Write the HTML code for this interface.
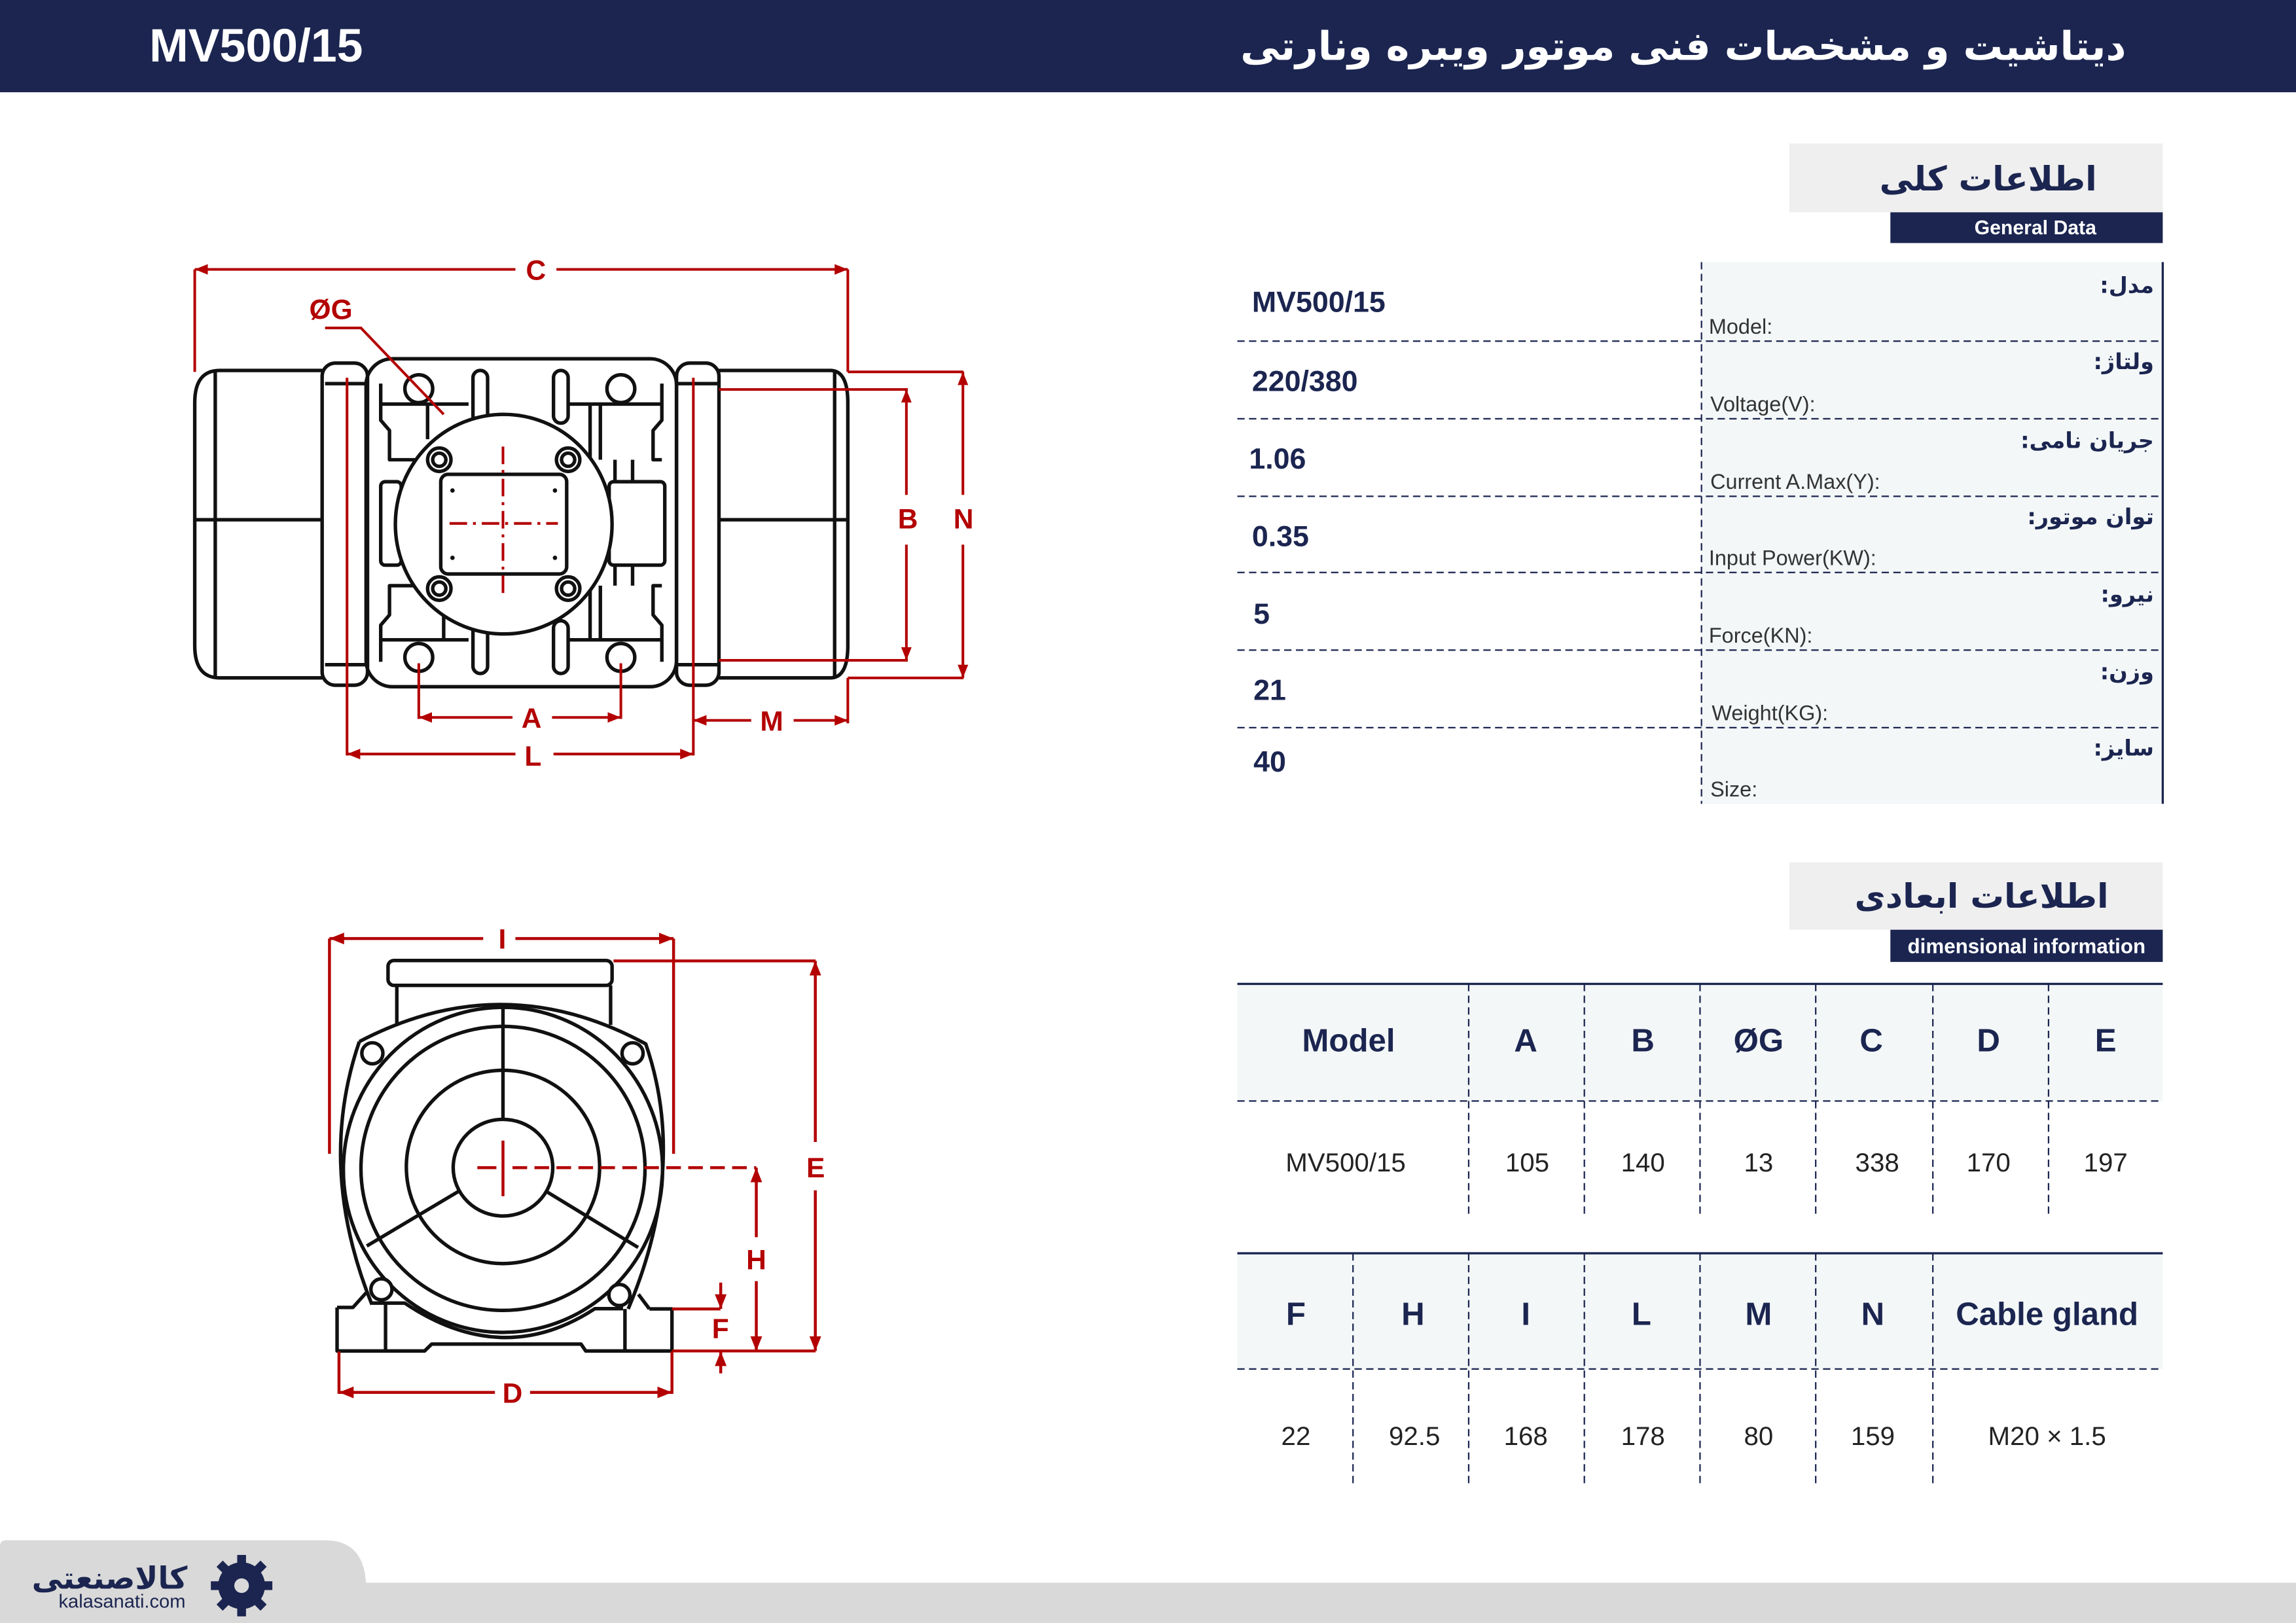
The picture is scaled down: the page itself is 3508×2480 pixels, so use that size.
<!DOCTYPE html>
<html><head><meta charset="utf-8"><style>html,body{margin:0;padding:0;background:#fff}svg{display:block}</style></head>
<body>
<svg width="3508" height="2480" viewBox="0 0 1568 1108.5" preserveAspectRatio="none" xmlns="http://www.w3.org/2000/svg" font-family="Liberation Sans, DejaVu Sans, sans-serif">
<defs>
<marker id="ar" viewBox="0 0 10 10" refX="10" refY="5" markerWidth="5" markerHeight="5" orient="auto-start-reverse"><path d="M0,1 L10,5 L0,9 Z" fill="#b30000"/></marker>
</defs>
<rect width="1568" height="1108.5" fill="#fff"/>
<!-- header -->
<rect x="0" y="0" width="1568" height="63" fill="#1b2550"/>
<text x="102" y="42" font-size="32" font-weight="bold" fill="#fff">MV500/15</text>
<text x="1452" y="41" font-size="27" font-weight="bold" fill="#fff" direction="rtl" text-anchor="start" font-family="DejaVu Sans, sans-serif">دیتاشیت و مشخصات فنی موتور ویبره ونارتی</text>

<!-- general data heading -->
<rect x="1222" y="98" width="255" height="47" fill="#efefef"/>
<text x="1432" y="130" font-size="23" font-weight="bold" fill="#1b2550" direction="rtl" text-anchor="start" font-family="DejaVu Sans, sans-serif">اطلاعات کلی</text>
<rect x="1291" y="145" width="186" height="21" fill="#1b2550"/>
<text x="1390" y="160" font-size="13.5" font-weight="bold" fill="#fff" text-anchor="middle">General Data</text>

<rect x="1162" y="179" width="315" height="370" fill="#f3f7f7"/>
<line x1="1477" y1="179" x2="1477" y2="549" stroke="#1b2550" stroke-width="1.5"/>
<line x1="1162" y1="179" x2="1162" y2="549" stroke="#1b2550" stroke-width="1" stroke-dasharray="5 3"/>
<g stroke="#1b2550" stroke-width="1" stroke-dasharray="5 3">
<line x1="845" y1="233" x2="1477" y2="233"/><line x1="845" y1="286" x2="1477" y2="286"/>
<line x1="845" y1="339" x2="1477" y2="339"/><line x1="845" y1="391" x2="1477" y2="391"/>
<line x1="845" y1="444" x2="1477" y2="444"/><line x1="845" y1="497" x2="1477" y2="497"/>
</g>
<g font-size="20" font-weight="bold" fill="#1b2550">
<text x="855" y="213">MV500/15</text><text x="855" y="267">220/380</text><text x="853" y="320">1.06</text>
<text x="855" y="373">0.35</text><text x="856" y="426">5</text><text x="856" y="478">21</text><text x="856" y="527">40</text>
</g>
<g font-size="14.5" fill="#333">
<text x="1167" y="228">Model:</text><text x="1168" y="281">Voltage(V):</text><text x="1168" y="334">Current A.Max(Y):</text>
<text x="1167" y="386">Input Power(KW):</text><text x="1167" y="439">Force(KN):</text><text x="1169" y="492">Weight(KG):</text><text x="1168" y="544">Size:</text>
</g>
<g font-size="15" font-weight="bold" fill="#1b2550" direction="rtl" text-anchor="start" font-family="DejaVu Sans, sans-serif">
<text x="1471" y="200">مدل:</text><text x="1471" y="252">ولتاژ:</text><text x="1471" y="306">جریان نامی:</text>
<text x="1471" y="358">توان موتور:</text><text x="1471" y="411">نیرو:</text><text x="1471" y="464">وزن:</text><text x="1471" y="516">سایز:</text>
</g>

<!-- dimensional heading -->
<rect x="1222" y="589" width="255" height="46" fill="#efefef"/>
<text x="1440" y="620" font-size="23" font-weight="bold" fill="#1b2550" direction="rtl" text-anchor="start" font-family="DejaVu Sans, sans-serif">اطلاعات ابعادی</text>
<rect x="1291" y="635" width="186" height="22" fill="#1b2550"/>
<text x="1384" y="651" font-size="14" font-weight="bold" fill="#fff" text-anchor="middle">dimensional information</text>

<!-- table 1 -->
<rect x="845" y="672" width="632" height="80" fill="#f3f7f7"/>
<line x1="845" y1="672" x2="1477" y2="672" stroke="#1b2550" stroke-width="1.5"/>
<g stroke="#1b2550" stroke-width="1" stroke-dasharray="5 3">
<line x1="845" y1="752" x2="1477" y2="752"/>
<line x1="1003" y1="672" x2="1003" y2="832"/><line x1="1082" y1="672" x2="1082" y2="832"/>
<line x1="1161" y1="672" x2="1161" y2="832"/><line x1="1240" y1="672" x2="1240" y2="832"/>
<line x1="1320" y1="672" x2="1320" y2="832"/><line x1="1399" y1="672" x2="1399" y2="832"/>
</g>
<g font-size="22" font-weight="bold" fill="#1b2550" text-anchor="middle">
<text x="921" y="718">Model</text><text x="1042" y="718">A</text><text x="1122" y="718">B</text><text x="1201" y="718">ØG</text>
<text x="1278" y="718">C</text><text x="1358" y="718">D</text><text x="1438" y="718">E</text>
</g>
<g font-size="18" fill="#222" text-anchor="middle">
<text x="919" y="800">MV500/15</text><text x="1043" y="800">105</text><text x="1122" y="800">140</text><text x="1201" y="800">13</text>
<text x="1282" y="800">338</text><text x="1358" y="800">170</text><text x="1438" y="800">197</text>
</g>
<!-- table 2 -->
<rect x="845" y="856" width="632" height="79" fill="#f3f7f7"/>
<line x1="845" y1="856" x2="1477" y2="856" stroke="#1b2550" stroke-width="1.5"/>
<g stroke="#1b2550" stroke-width="1" stroke-dasharray="5 3">
<line x1="845" y1="935" x2="1477" y2="935"/>
<line x1="924" y1="856" x2="924" y2="1015"/><line x1="1003" y1="856" x2="1003" y2="1015"/>
<line x1="1082" y1="856" x2="1082" y2="1015"/><line x1="1161" y1="856" x2="1161" y2="1015"/>
<line x1="1240" y1="856" x2="1240" y2="1015"/><line x1="1320" y1="856" x2="1320" y2="1015"/>
</g>
<g font-size="22" font-weight="bold" fill="#1b2550" text-anchor="middle">
<text x="885" y="905">F</text><text x="965" y="905">H</text><text x="1042" y="905">I</text><text x="1121" y="905">L</text>
<text x="1201" y="905">M</text><text x="1279" y="905">N</text><text x="1398" y="905">Cable gland</text>
</g>
<g font-size="18" fill="#222" text-anchor="middle">
<text x="885" y="987">22</text><text x="966" y="987">92.5</text><text x="1042" y="987">168</text><text x="1122" y="987">178</text>
<text x="1201" y="987">80</text><text x="1279" y="987">159</text><text x="1398" y="987">M20 × 1.5</text>
</g>

<!-- TOP VIEW drawing -->
<g fill="none" stroke="#111" stroke-width="2.4" stroke-linejoin="round">
<path d="M220,253 L150,253 Q133,253 133,275 L133,441 Q133,463 150,463 L220,463"/>
<line x1="147" y1="253" x2="147" y2="463"/>
<line x1="133" y1="355" x2="220" y2="355"/>
<path d="M491,253 L567,253 Q579,253 579,275 L579,441 Q579,463 567,463 L491,463"/>
<line x1="570" y1="253" x2="570" y2="463"/>
<line x1="491" y1="355" x2="579" y2="355"/>
<rect x="220" y="248" width="31" height="220" rx="9"/>
<line x1="222" y1="262" x2="251" y2="262"/><line x1="222" y1="454" x2="251" y2="454"/>
<rect x="462" y="248" width="29" height="220" rx="9"/>
<line x1="462" y1="262" x2="491" y2="262"/><line x1="462" y1="454" x2="491" y2="454"/>
<rect x="250" y="245" width="212" height="224" rx="18"/>
<circle cx="286" cy="265.5" r="9.5"/><circle cx="424" cy="265.5" r="9.5"/>
<circle cx="286" cy="449" r="9.5"/><circle cx="424" cy="449" r="9.5"/>
<rect x="323" y="253" width="10" height="36" rx="5"/><rect x="378" y="253" width="10" height="36" rx="5"/>
<rect x="323" y="424" width="10" height="36" rx="5"/><rect x="378" y="424" width="10" height="36" rx="5"/>
<path d="M260,276 L320,276 M389,276 L452,276"/>
<path d="M260,262 L260,287 L266,294 L266,314 L285,314"/>
<path d="M452,262 L452,287 L446,294 L446,314 L452,314"/>
<path d="M260,437 L320,437 M389,437 L452,437"/>
<path d="M260,452 L260,427 L266,420 L266,400 L285,400"/>
<path d="M452,452 L452,427 L446,420 L446,400 L452,400"/>
<path d="M292,276 L292,300 M403,276 L403,314 M410,276 L410,314 M403,400 L403,437 M410,400 L410,437 M303,400 L303,437"/>
<rect x="260" y="329" width="14" height="57" rx="3"/>
<rect x="416" y="329" width="38" height="57" rx="3"/>
<path d="M420,314 L420,329 M432,314 L432,329 M420,386 L420,400 M432,386 L432,400"/>
<ellipse cx="344" cy="358" rx="74" ry="75" fill="#fff"/>
<rect x="301" y="324" width="86" height="68" rx="5"/>
<circle cx="300" cy="314" r="8"/><circle cx="300" cy="314" r="4.5"/>
<circle cx="388" cy="314" r="8"/><circle cx="388" cy="314" r="4.5"/>
<circle cx="300" cy="402" r="8"/><circle cx="300" cy="402" r="4.5"/>
<circle cx="388" cy="402" r="8"/><circle cx="388" cy="402" r="4.5"/>
</g>
<g fill="#111"><circle cx="309" cy="335" r="1.5"/><circle cx="379" cy="335" r="1.5"/><circle cx="309" cy="381" r="1.5"/><circle cx="379" cy="381" r="1.5"/></g>
<g stroke="#b30000" stroke-width="1.8" fill="none">
<path d="M307,357.5 L381,357.5 M343.5,305 L343.5,407" stroke-dasharray="12 4 2 4"/>
<line x1="133" y1="184" x2="352" y2="184" marker-start="url(#ar)"/>
<line x1="380" y1="184" x2="579" y2="184" marker-end="url(#ar)"/>
<line x1="133" y1="184" x2="133" y2="254"/>
<line x1="579" y1="184" x2="579" y2="254"/>
<path d="M222,224 L246.5,224 L303,283"/>
<line x1="491" y1="266" x2="620" y2="266"/><line x1="491" y1="451" x2="620" y2="451"/>
<line x1="619" y1="266" x2="619" y2="338" marker-start="url(#ar)"/>
<line x1="619" y1="372" x2="619" y2="451" marker-end="url(#ar)"/>
<line x1="579" y1="254" x2="658" y2="254"/><line x1="579" y1="463" x2="658" y2="463"/>
<line x1="657.6" y1="254" x2="657.6" y2="338" marker-start="url(#ar)"/>
<line x1="657.6" y1="372" x2="657.6" y2="463" marker-end="url(#ar)"/>
<line x1="286" y1="453" x2="286" y2="491"/><line x1="424" y1="453" x2="424" y2="491"/>
<line x1="286" y1="490" x2="350" y2="490" marker-start="url(#ar)"/>
<line x1="377" y1="490" x2="424" y2="490" marker-end="url(#ar)"/>
<line x1="237" y1="258" x2="237" y2="516"/><line x1="473.5" y1="258" x2="473.5" y2="516"/>
<line x1="237" y1="515" x2="352" y2="515" marker-start="url(#ar)"/>
<line x1="378" y1="515" x2="473.5" y2="515" marker-end="url(#ar)"/>
<line x1="579" y1="463" x2="579" y2="494"/>
<line x1="473.5" y1="492" x2="513" y2="492" marker-start="url(#ar)"/>
<line x1="542" y1="492" x2="579" y2="492" marker-end="url(#ar)"/>
</g>
<g font-size="19" font-weight="bold" fill="#b30000" text-anchor="middle">
<text x="366" y="191">C</text><text x="226" y="218">ØG</text>
<text x="620" y="361">B</text><text x="658" y="361">N</text>
<text x="363" y="497">A</text><text x="364" y="523">L</text><text x="527" y="499">M</text>
</g>

<!-- FRONT VIEW drawing -->
<g fill="none" stroke="#111" stroke-width="2.4" stroke-linejoin="round">
<rect x="265" y="656" width="153" height="17" rx="4"/>
<path d="M271,673 L271,699 M417,673 L417,700"/>
<path d="M245.4,711.4 Q343.5,660 441,713 Q470,797 429,894 M245.4,711.4 Q216,797 254,891"/>
<ellipse cx="343.5" cy="799" rx="109" ry="111"/>
<ellipse cx="343.5" cy="798" rx="97" ry="97"/>
<ellipse cx="343.5" cy="797" rx="66" ry="66"/>
<ellipse cx="343.5" cy="797.5" rx="34" ry="33"/>
<path d="M343.5,764 L343.5,688 M312.8,813.9 L250.5,851 M373.5,814 L435.8,852"/>
<circle cx="254.3" cy="719.4" r="7.2" fill="#fff"/><circle cx="432" cy="719.4" r="7.2" fill="#fff"/>
<circle cx="260.5" cy="880.6" r="7.2" fill="#fff"/><circle cx="423" cy="884.5" r="7.2" fill="#fff"/>
<path d="M230.2,893 L241,893 L250,883 M443.5,894 L436,884"/>
<path d="M443.5,894 L458.9,894 L458.9,922.7 L400,922.7 L396.8,918 L294.8,918 L290,922.7 L230.2,922.7 L230.2,893"/>
<path d="M253.8,890 L276.4,890 Q343.5,935 406.3,893.8 L425.5,893.8"/>
<path d="M263.3,890 L263.3,922 M426.8,894 L426.8,922"/>
</g>
<g stroke="#b30000" stroke-width="2" fill="none">
<path d="M326,797.5 L339,797.5 M343.5,779 L343.5,817"/>
<path d="M350,797.5 L516.5,797.5" stroke-dasharray="10 5"/>
<line x1="225" y1="641" x2="225" y2="788"/><line x1="460" y1="641" x2="460" y2="788"/>
<line x1="225" y1="641" x2="330" y2="641" marker-start="url(#ar)"/>
<line x1="352" y1="641" x2="460" y2="641" marker-end="url(#ar)"/>
<line x1="419" y1="656.3" x2="557" y2="656.3"/>
<line x1="459" y1="922.7" x2="557" y2="922.7"/>
<line x1="556.8" y1="656.3" x2="556.8" y2="780" marker-start="url(#ar)"/>
<line x1="556.8" y1="813" x2="556.8" y2="922.7" marker-end="url(#ar)"/>
<line x1="516.5" y1="797.5" x2="516.5" y2="845" marker-start="url(#ar)"/>
<line x1="516.5" y1="875" x2="516.5" y2="922.7" marker-end="url(#ar)"/>
<line x1="459" y1="894" x2="492" y2="894"/>
<line x1="492.2" y1="876" x2="492.2" y2="894" marker-end="url(#ar)"/>
<line x1="492.2" y1="938" x2="492.2" y2="923" marker-end="url(#ar)"/>
<line x1="231.5" y1="923" x2="231.5" y2="952"/><line x1="458.9" y1="923" x2="458.9" y2="952"/>
<line x1="231.5" y1="951" x2="338" y2="951" marker-start="url(#ar)"/>
<line x1="362" y1="951" x2="458.9" y2="951" marker-end="url(#ar)"/>
</g>
<g font-size="19" font-weight="bold" fill="#b30000" text-anchor="middle">
<text x="343" y="648">I</text><text x="557" y="804">E</text><text x="516.5" y="867">H</text>
<text x="492" y="914">F</text><text x="350" y="958">D</text>
</g>

<!-- footer -->
<rect x="0" y="1081" width="1568" height="28" fill="#d9d9d9"/>
<path d="M0,1056 Q0,1052 4,1052 L222,1052 Q250,1052 250,1085 L250,1109 L0,1109 Z" fill="#d9d9d9"/>
<text x="128" y="1085" font-size="21" font-weight="bold" fill="#1b2550" direction="rtl" text-anchor="start" font-family="DejaVu Sans, sans-serif">کالاصنعتی</text>
<text x="40" y="1098" font-size="13" fill="#1b2550">kalasanati.com</text>
<g fill="#1b2550">
<circle cx="165" cy="1083" r="16"/>
<g stroke="#1b2550" stroke-width="6">
<line x1="165" y1="1062" x2="165" y2="1104"/><line x1="144" y1="1083" x2="186" y2="1083"/>
<line x1="150" y1="1068" x2="180" y2="1098"/><line x1="180" y1="1068" x2="150" y2="1098"/>
</g>
<circle cx="165" cy="1083" r="5" fill="#d9d9d9"/>
</g>
<path d="M140,1076 A22,22 0 0 1 160,1058" fill="none" stroke="#d9d9d9" stroke-width="2.5"/>
</svg>
</body></html>
